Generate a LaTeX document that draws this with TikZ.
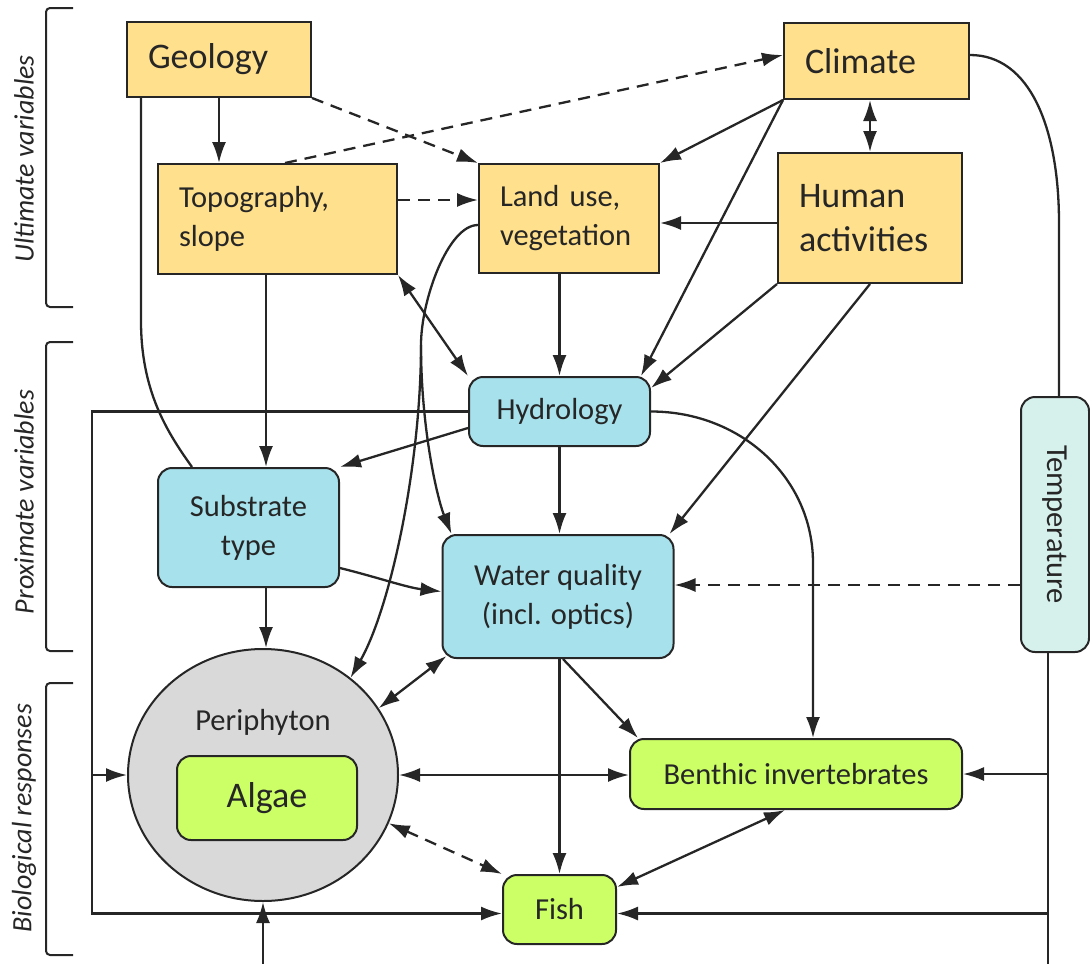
\documentclass[tikz,border=0pt]{standalone}
\usepackage{fontspec}
\setmainfont{Carlito}
\usepackage{xcolor}
\usepackage{tikz}
\usetikzlibrary{arrows.meta, shapes.geometric}

\definecolor{linec}{HTML}{262626}
\definecolor{yellowf}{HTML}{FFE08C}
\definecolor{bluef}{HTML}{A6E1EC}
\definecolor{tempf}{HTML}{D6F0EC}
\definecolor{greenf}{HTML}{CCFF66}
\definecolor{grayf}{HTML}{D9D9D9}

\newcommand{\bigsize}{\fontsize{36}{44}\selectfont}
\newcommand{\midsize}{\fontsize{30.5}{39}\selectfont}
\newcommand{\sidesize}{\fontsize{28}{34}\selectfont\itshape}

\begin{document}
\begin{tikzpicture}[
    x=1pt, y=-1pt,
    >={Latex[length=21pt,width=14pt]},
    ultimate/.style={
        draw=linec, fill=yellowf, line width=2pt,
        inner xsep=21pt, inner ysep=0pt,
        align=left, text=linec
    },
    proximate/.style={
        draw=linec, fill=bluef, line width=2pt, rounded corners=14pt,
        inner sep=0pt, align=center, text=linec, font=\midsize
    },
    tempbox/.style={
        draw=linec, fill=tempf, line width=2pt, rounded corners=14pt,
        inner sep=0pt
    },
    biotic/.style={
        draw=linec, fill=greenf, line width=2pt, rounded corners=14pt,
        inner sep=0pt, align=center, text=linec, font=\midsize
    },
    link/.style={line width=2.3pt, draw=linec},
    arr/.style={->, link},
    dblarr/.style={<->, link},
    dashline/.style={dash pattern=on 12pt off 8pt},
    brk/.style={line width=2pt, draw=linec, rounded corners=4pt},
    side/.style={font=\sidesize, text=linec, rotate=90}
]
    \useasboundingbox (0,0) rectangle (1090,964);

    % ultimate variables
    \node[ultimate, font=\bigsize, text width=142pt, minimum height=75pt] (geology) at (219,59.5) {Geology};
    \node[ultimate, font=\bigsize, text width=143pt, minimum height=76pt] (climate) at (876.5,61) {Climate};
    \node[ultimate, font=\midsize, text width=197pt, minimum height=110pt] (topo) at (277.5,219) {Topography,\\slope};
    \node[ultimate, font=\midsize, text width=138pt, minimum height=109pt] (landuse) at (569,218.5) {Land use,\\vegetation};
    \node[ultimate, font=\bigsize, text width=142pt, minimum height=130pt] (human) at (870,218) {Human\\activities};

    % proximate variables
    \node[proximate, minimum width=181pt, minimum height=69pt] (hydro) at (559.5,411.5) {Hydrology};
    \node[proximate, minimum width=181pt, minimum height=119pt] (substrate) at (248.5,527.5) {Substrate\\type};
    \node[proximate, minimum width=231pt, minimum height=123pt] (water) at (558,596.5) {Water quality\\(incl. optics)};
    \node[tempbox, minimum width=68pt, minimum height=255pt] (temp) at (1055,524.5) {};
    \node[rotate=-90, font=\midsize, text=linec] (templbl) at (temp) {Temperature};

    % biological responses
    \node[ellipse, draw=linec, fill=grayf, line width=2pt, inner sep=0pt,
          minimum width=270pt, minimum height=252pt] (periphyton) at (263,775) {};
    \node[font=\midsize, text=linec] (perilbl) at (263,722) {Periphyton};
    \node[biotic, font=\bigsize, minimum width=180pt, minimum height=84pt] (algae) at (267,798) {Algae};
    \node[biotic, minimum width=332pt, minimum height=70pt] (benthic) at (796,774) {Benthic invertebrates};
    \node[biotic, minimum width=113pt, minimum height=69pt] (fish) at (559.5,909.5) {Fish};

    % brackets and group labels
    \draw[brk] (73,8) -- (46,8) -- (46,307) -- (73,307);
    \draw[brk] (73,342) -- (46,342) -- (46,651) -- (73,651);
    \draw[brk] (73,683) -- (46,683) -- (46,955) -- (73,955);
    \node[side] (ultlbl) at (24,159) {Ultimate variables};
    \node[side] (proxlbl) at (24,502) {Proximate variables};
    \node[side] (biolbl) at (24,818) {Biological responses};

    % helper points
    \coordinate (lane) at (92,0);
    \coordinate (split) at (421,345);
    \coordinate (bend) at (813,563);
    \coordinate (tbend) at (1059,223);
    \coordinate (tdown) at (1048,964);
    \coordinate (pbot) at (263,964);

    % links among ultimate variables
    \draw[arr] (geology.south) -- (geology.south |- topo.north);
    \draw[arr, dashline] (geology.south east) -- (landuse.north west);
    \draw[arr, dashline] ([xshift=7.5pt]topo.north) -- ([yshift=6pt]climate.west);
    \draw[arr, dashline] ([yshift=19pt]topo.east) -- ([yshift=19pt]topo.east -| landuse.west);
    \draw[arr] (climate.south west) -- (landuse.north east);
    \draw[dblarr] (human.north |- climate.south) -- (human.north);
    \draw[arr] ([yshift=-5pt]human.west) -- ([yshift=-5pt]human.west -| landuse.east);

    % into proximate variables
    \draw[link] ([xshift=15pt]geology.south west) -- ++(0,223)
        .. controls +(0,70) and +(-25,-35) .. ([xshift=35pt]substrate.north west);
    \draw[arr] ([xshift=-11.5pt]topo.south) -- ([xshift=-11.5pt]topo.south |- substrate.north);
    \draw[dblarr] (topo.south east) -- (hydro.north west);
    \draw[arr] (hydro.north |- landuse.south) -- (hydro.north);
    \draw[link] ([yshift=-6.5pt]landuse.west) .. controls +(-30,0) and +(0,-45) .. (split);
    \draw[arr] (split) .. controls +(0,120) and +(40,-70) .. (periphyton.48);
    \draw[arr] (split) .. controls +(0,85) and +(-14,-35) .. ([xshift=10pt]water.north west);
    \draw[arr] (climate.south west) -- ([xshift=-10pt]hydro.north east);
    \draw[arr] (human.south west) -- ([yshift=23.5pt]hydro.east);
    \draw[arr] (human.south) -- ([xshift=-5pt]water.north east);
    \draw[link] ([yshift=6pt]climate.east) .. controls +(60,0) and +(0,-95) .. (tbend) -- (tbend |- temp.north);

    % among proximate variables
    \draw[arr] ([yshift=-16.5pt]hydro.west) -- (substrate.north east);
    \draw[arr] (hydro.south) -- (hydro.south |- water.north);
    \draw[arr] ([yshift=-40.5pt]substrate.east) .. controls +(40,10) and +(-35,-4) .. ([yshift=5pt]water.west);
    \draw[arr, dashline] ([yshift=-60.5pt]temp.west) -- ([yshift=-60.5pt]temp.west -| water.east);

    % into biological responses
    \draw[arr] (hydro.west) -- (hydro.west -| lane) |- ([yshift=-4pt]fish.west);
    \draw[arr] (lane |- periphyton.west) -- (periphyton.west);
    \draw[arr] (hydro.east) .. controls +(90,0) and +(0,-85) .. (bend) -- (bend |- benthic.north);
    \draw[arr] ([xshift=17.5pt]substrate.south) -- ([xshift=17.5pt]substrate.south |- periphyton.north);
    \draw[dblarr] ([xshift=5pt,yshift=3pt]water.south west) -- (periphyton.30);
    \draw[arr] (fish.north |- water.south) -- (fish.north);
    \draw[arr] ([xshift=5pt]water.south) -- ([xshift=9pt]benthic.north west);
    \draw[link] ([xshift=-7pt]temp.south) -- (tdown);
    \draw[arr] (tdown |- benthic.east) -- (benthic.east);
    \draw[arr] ([yshift=-4pt]fish.east -| tdown) -- ([yshift=-4pt]fish.east);
    \draw[arr] (pbot) -- (periphyton.south);

    % among biological responses
    \draw[dblarr] (periphyton.east) -- (periphyton.east -| benthic.west);
    \draw[dblarr, dashline] (periphyton.-21) -- (fish.north west);
    \draw[dblarr] ([xshift=-11pt]benthic.south) -- ([yshift=-13pt]fish.north east);
\end{tikzpicture}
\end{document}
